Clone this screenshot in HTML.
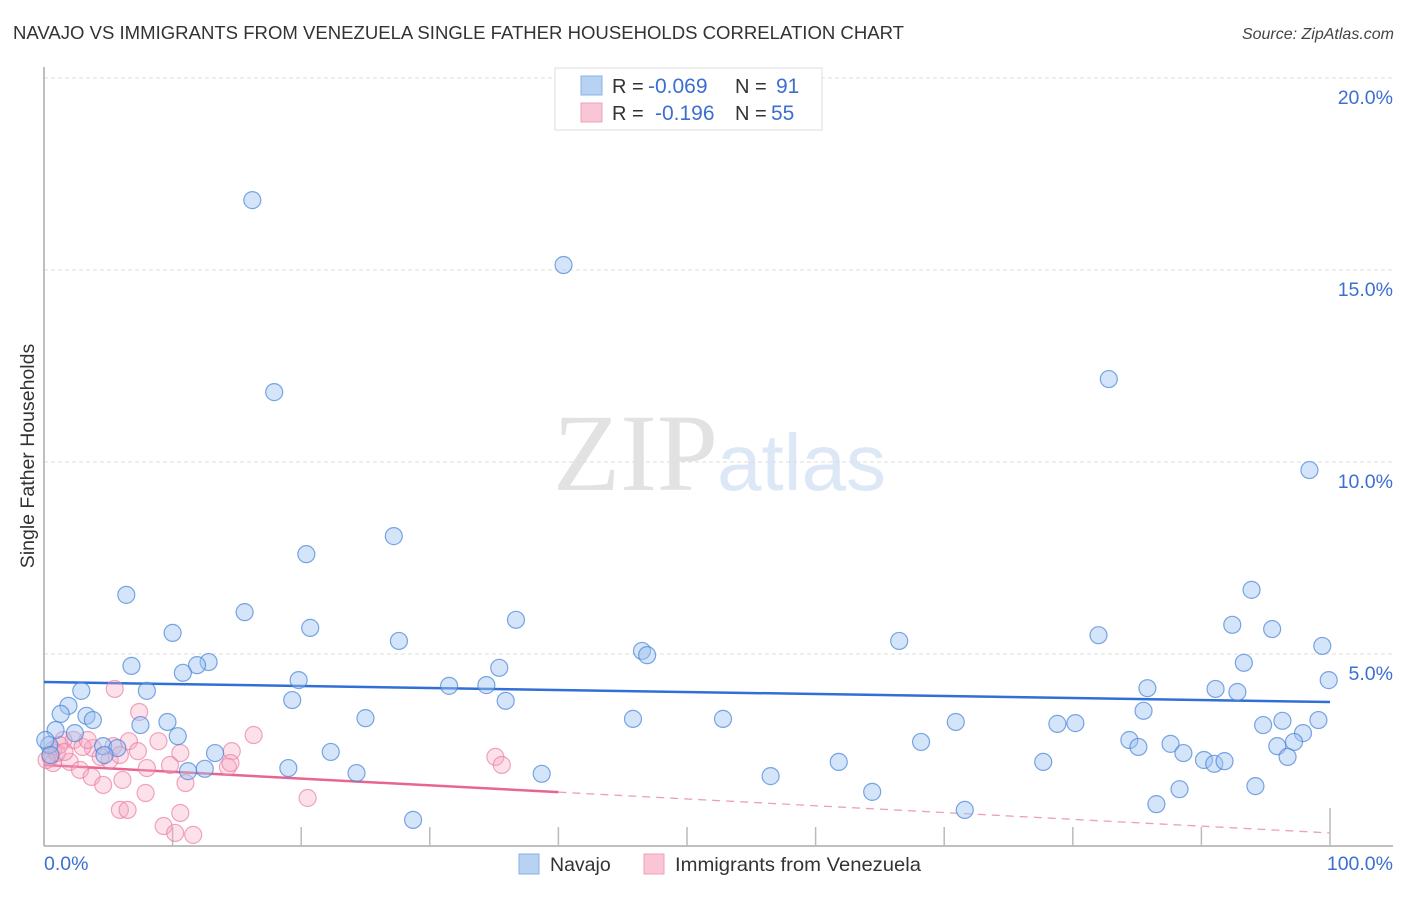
<!DOCTYPE html>
<html><head><meta charset="utf-8"><style>
html,body{margin:0;padding:0;background:#fff;}
body{width:1406px;height:892px;overflow:hidden;font-family:"Liberation Sans",sans-serif;}
</style></head><body>
<svg id="chart" width="1406" height="892" xmlns="http://www.w3.org/2000/svg" font-family="Liberation Sans, sans-serif">
<text x="13" y="39" font-size="18.5" fill="#333" textLength="891" lengthAdjust="spacingAndGlyphs">NAVAJO VS IMMIGRANTS FROM VENEZUELA SINGLE FATHER HOUSEHOLDS CORRELATION CHART</text>
<text x="1394" y="39" font-size="16" fill="#444" font-style="italic" text-anchor="end">Source: ZipAtlas.com</text>
<g>
<text x="553" y="490" font-family="Liberation Serif, serif" font-size="110" fill="#e2e2e2">ZIP</text>
<text x="717" y="490" font-size="80" fill="#dde8f7">atlas</text>
</g>
<g id="grid"></g>
<g id="axes"></g>
<text transform="translate(34,456) rotate(-90)" font-size="19.5" fill="#333" text-anchor="middle">Single Father Households</text>
<g id="trend"></g>
<g id="pts"></g>
<g>
<rect x="555" y="68" width="267" height="62" fill="#fff" stroke="#ddd"/>
<rect x="581" y="76" width="21" height="19" fill="#b8d2f4" stroke="#8ab0e6"/>
<rect x="581" y="103" width="21" height="19" fill="#f9c6d5" stroke="#efa0b9"/>
<text font-size="20" fill="#333"><tspan x="612" y="93">R =</tspan><tspan x="648" y="93" fill="#3b6fd0" font-size="21">-0.069</tspan><tspan x="735" y="93">N =</tspan><tspan x="776" y="93" fill="#3b6fd0" font-size="21">91</tspan></text>
<text font-size="20" fill="#333"><tspan x="612" y="120">R =</tspan><tspan x="655" y="120" fill="#3b6fd0" font-size="21">-0.196</tspan><tspan x="735" y="120">N =</tspan><tspan x="771" y="120" fill="#3b6fd0" font-size="21">55</tspan></text>
</g>
<g>
<rect x="519" y="854" width="20" height="20" fill="#b8d2f4" stroke="#8ab0e6"/>
<text x="550" y="871" font-size="19.5" fill="#333">Navajo</text>
<rect x="644" y="854" width="20" height="20" fill="#f9c6d5" stroke="#efa0b9"/>
<text x="675" y="871" font-size="19.5" fill="#333" textLength="246" lengthAdjust="spacingAndGlyphs">Immigrants from Venezuela</text>
</g>
</svg>
<script>
const navajoX=[16.2,40.4,17.9,82.8,98.4,27.2,20.4,6.4,15.6,93.9,36.7,20.7,10.0,27.6,92.4,95.5,82.0,66.5,46.5,46.9,12.8,11.9,6.8,10.8,35.4,99.4,93.3,99.9,19.8,2.9,8.0,31.5,34.4,19.3,1.9,35.9,85.8,91.1,92.8,1.3,3.3,3.8,25.0,45.8,52.8,7.5,9.6,85.5,78.8,80.2,94.8,96.3,99.1,70.9,97.9,0.9,10.4,2.4,68.2,84.4,85.1,87.6,95.9,97.2,88.6,4.6,5.7,13.3,22.3,4.7,0.4,96.7,90.2,91.0,91.8,61.8,77.7,19.0,12.5,11.2,24.3,38.7,56.5,88.3,94.2,64.4,86.5,71.6,28.7,0.1,0.5];
const navajoY=[16.82,15.13,11.82,12.16,9.79,8.07,7.6,6.54,6.09,6.67,5.89,5.68,5.55,5.34,5.76,5.65,5.49,5.34,5.08,4.97,4.79,4.71,4.69,4.51,4.64,5.21,4.77,4.32,4.32,4.04,4.04,4.17,4.19,3.80,3.65,3.78,4.11,4.09,4.01,3.44,3.39,3.28,3.33,3.31,3.31,3.15,3.23,3.52,3.18,3.20,3.15,3.26,3.28,3.23,2.94,3.02,2.86,2.94,2.71,2.76,2.58,2.66,2.60,2.71,2.42,2.60,2.55,2.42,2.45,2.37,2.63,2.32,2.24,2.14,2.21,2.19,2.19,2.03,2.01,1.95,1.90,1.88,1.82,1.48,1.56,1.41,1.09,0.94,0.68,2.76,2.37];
const venX=[5.5,7.4,16.3,8.9,6.6,14.6,10.6,7.3,5.4,3.8,2.3,1.5,0.7,0.5,0.7,2.0,2.8,3.7,4.6,6.1,7.9,5.1,5.9,8.0,9.8,11.0,14.3,5.9,6.5,10.6,9.3,10.2,11.6,20.5,1.0,3.0,4.4,1.2,35.1,35.6,0.2,1.6,3.4,14.5];
const venY=[4.09,3.49,2.89,2.73,2.73,2.47,2.42,2.47,2.60,2.55,2.76,2.76,2.50,2.32,2.16,2.19,1.98,1.80,1.59,1.72,1.38,2.24,2.37,2.03,2.11,1.64,2.06,0.94,0.94,0.86,0.52,0.34,0.29,1.25,2.42,2.58,2.32,2.63,2.32,2.11,2.24,2.45,2.76,2.16];
const yTicks=[5,10,15,20];
const yTickLabels=["5.0%","10.0%","15.0%","20.0%"];
const xTicks=[10,20,30,40,50,60,70,80,90,100];
const navajoTrend=[4.27,3.75];
const venTrend=[2.11,0.34];
const venSolidEnd=40;

const NS="http://www.w3.org/2000/svg";
const X0=44,X1=1330,Y0=846,PXPCT=38.4;
function sx(v){return X0+v*(X1-X0)/100;}
function sy(v){return Y0-v*PXPCT;}
function mk(tag,attrs,parent){const e=document.createElementNS(NS,tag);for(const k in attrs)e.setAttribute(k,attrs[k]);parent.appendChild(e);return e;}
const grid=document.getElementById('grid'),axes=document.getElementById('axes'),trend=document.getElementById('trend'),pts=document.getElementById('pts');
yTicks.forEach((t,i)=>{
  const l=mk('line',{x1:X0,x2:1393,y1:sy(t),y2:sy(t),stroke:'#ddd','stroke-dasharray':'4,3'},grid);
  
  
  const tx=mk('text',{x:1393,y:sy(t)+26,'font-size':19.5,fill:'#3b6fd0','text-anchor':'end'},axes);
  tx.textContent=yTickLabels[i];
  
  
});
const ya=mk('line',{x1:X0,x2:X0,y1:67,y2:Y0,stroke:'#aaa','stroke-width':1.5},axes);


const xa=mk('line',{x1:X0,x2:1393,y1:Y0,y2:Y0,stroke:'#aaa','stroke-width':1.5},axes);


xTicks.forEach(t=>{
  const l=mk('line',{x1:sx(t),x2:sx(t),y1:t===100?808:827,y2:Y0,stroke:'#bbb','stroke-width':1.5},axes);
  
  
});
const xl0=mk('text',{x:X0,y:870,'font-size':19.5,fill:'#3b6fd0'},axes);xl0.textContent='0.0%';


const xl1=mk('text',{x:1393,y:870,'font-size':19.5,fill:'#3b6fd0','text-anchor':'end'},axes);xl1.textContent='100.0%';



function dot(x,y,fill,stroke,name){
  const c=mk('circle',{cx:sx(x),cy:sy(y),r:8.5,fill:fill,stroke:stroke,'stroke-width':1.2},pts);
  
  
}
venX.forEach((x,i)=>dot(x,venY[i],'rgba(246,170,196,0.35)','rgba(232,120,158,0.65)','venezuela-point'));
navajoX.forEach((x,i)=>dot(x,navajoY[i],'rgba(160,196,242,0.45)','rgba(70,130,215,0.7)','navajo-point'));

const bt=mk('line',{x1:sx(0),x2:sx(100),y1:sy(navajoTrend[0]),y2:sy(navajoTrend[1]),stroke:'#2f6fd6','stroke-width':2.5},trend);


const vAt=v=>venTrend[0]+(venTrend[1]-venTrend[0])*v/100;
const pt1=mk('line',{x1:sx(0),x2:sx(venSolidEnd),y1:sy(vAt(0)),y2:sy(vAt(venSolidEnd)),stroke:'#e8658f','stroke-width':2.5},trend);


const pt2=mk('line',{x1:sx(venSolidEnd),x2:sx(100),y1:sy(vAt(venSolidEnd)),y2:sy(vAt(100)),stroke:'#eba0b8','stroke-width':1.3,'stroke-dasharray':'8,6'},trend);


</script>
</body></html>
